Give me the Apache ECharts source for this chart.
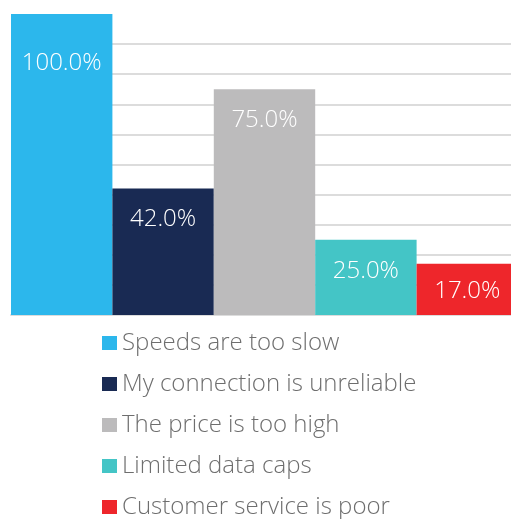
<!DOCTYPE html>
<html><head><meta charset="utf-8">
<script src="https://cdn.jsdelivr.net/npm/echarts@6/dist/echarts.min.js"></script>
<style>html,body{margin:0;padding:0;background:#fff;overflow:hidden}#c{width:518px;height:519px}</style>
</head><body><div id="c"></div>
<script>
const categories = ['Speeds are too slow','My connection is unreliable','The price is too high','Limited data caps','Customer service is poor'];
const values = [100, 42, 75, 25, 17];
const colors = ['#2cb7ec','#192a53','#bcbbbc','#44c5c6','#ee262b'];
const labelDistances = [37, 19, 19, 19, 15];
const FONT = '"Open Sans"';

const series = categories.map((name, i) => ({
  name: name,
  type: 'bar',
  stack: 'all',
  barWidth: '100%',
  itemStyle: { color: colors[i] },
  label: {
    show: true, position: 'insideTop', distance: labelDistances[i],
    color: '#fff', fontFamily: FONT, fontWeight: 300, fontSize: 24,
    formatter: p => p.value.toFixed(1) + '%'
  },
  data: categories.map((c, j) => j === i ? values[i] : '-')
}));

const splitColors = [];
for (let k = 0; k <= 10; k++) splitColors.push(k === 10 ? 'rgba(0,0,0,0)' : '#dcdcdc');

const chart = echarts.init(document.getElementById('c'));
chart.setOption({
  animation: false,
  grid: { left: 11, top: 14, right: 0, height: 301, containLabel: false },
  xAxis: {
    type: 'category', data: categories,
    axisLine: { show: true, lineStyle: { color: '#dcdcdc', width: 2 } },
    axisTick: { show: false }, axisLabel: { show: false }
  },
  yAxis: {
    type: 'value', min: 0, max: 100, interval: 10,
    axisLine: { show: false }, axisTick: { show: false }, axisLabel: { show: false },
    splitLine: { show: true, lineStyle: { color: splitColors, width: 2 } }
  },
  legend: {
    orient: 'vertical', left: 102, top: 331, height: 230, padding: 0,
    itemWidth: 15, itemHeight: 14, itemGap: 17,
    icon: 'rect',
    textStyle: { fontFamily: FONT, fontWeight: 300, fontSize: 24, color: '#6e6e6e', lineHeight: 24 },
    data: categories
  },
  series: series
});
</script></body></html>
